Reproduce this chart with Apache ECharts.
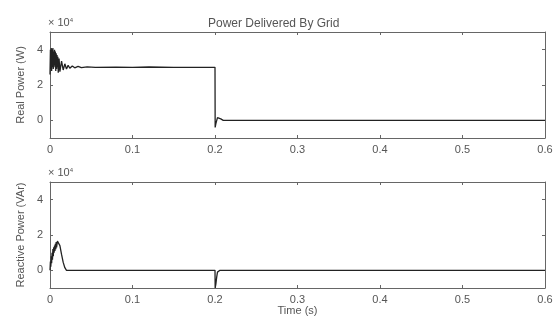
<!DOCTYPE html>
<html>
<head>
<meta charset="utf-8">
<script src="https://cdn.jsdelivr.net/npm/echarts@6/dist/echarts.min.js"></script>
<style>
  html, body { margin: 0; padding: 0; background: #fff; }
  #chart { width: 557px; height: 318px; }
</style>
</head>
<body>
<div id="chart"></div>
<script>
// time axis ticks
const timeTicks = [0, 0.1, 0.2, 0.3, 0.4, 0.5, 0.6]
const powerTicks = [0, 2, 4]

// real power (x 10^4 W)
const realTime = [0, 0.0005, 0.001, 0.0015, 0.002, 0.0025, 0.003, 0.0035, 0.004, 0.0045,
  0.005, 0.0055, 0.006, 0.0065, 0.007, 0.0075, 0.008, 0.0085, 0.009, 0.0095,
  0.010, 0.011, 0.012, 0.014, 0.016, 0.018, 0.020, 0.022, 0.024, 0.027,
  0.030, 0.034, 0.038, 0.045, 0.055, 0.08, 0.1, 0.12, 0.15, 0.18,
  0.2, 0.2002, 0.201, 0.203, 0.205, 0.207, 0.21, 0.3, 0.45, 0.6]
const realPower = [2.6, 4.0, 2.9, 4.1, 2.8, 4.0, 3.0, 4.1, 2.9, 3.9,
  3.1, 4.0, 3.0, 3.9, 2.8, 3.8, 2.9, 3.7, 3.0, 3.6,
  2.7, 3.5, 2.75, 3.35, 2.85, 3.2, 2.9, 3.12, 2.95, 3.08,
  2.97, 3.05, 2.98, 3.03, 3.0, 3.01, 3.0, 3.02, 3.0, 3.0,
  3.0, -0.4, -0.2, 0.15, 0.22, 0.08, 0.0, 0.0, 0.0, 0.0]

// reactive power (x 10^4 VAr)
const reactTime = [0, 0.0005, 0.001, 0.0015, 0.002, 0.0025, 0.003, 0.0035, 0.004, 0.0045,
  0.005, 0.0055, 0.006, 0.0065, 0.007, 0.0075, 0.008, 0.009, 0.010, 0.011,
  0.012, 0.014, 0.016, 0.018, 0.02, 0.022, 0.025, 0.1, 0.2, 0.2002,
  0.201, 0.202, 0.203, 0.204, 0.206, 0.21, 0.3, 0.45, 0.6]
const reactPower = [0, 0.5, 0.2, 0.8, 0.4, 1.0, 0.6, 1.2, 0.8, 1.3,
  1.0, 1.4, 1.1, 1.5, 1.2, 1.6, 1.3, 1.65, 1.55, 1.7,
  1.4, 0.9, 0.45, 0.15, 0.0, -0.05, 0.0, 0.0, 0.0, -1.0,
  -0.8, -0.4, -0.1, 0.0, 0.0, 0.0, 0.0, 0.0, 0.0]

const txt = '#555'
const font = 'Liberation Sans'

function pairs(xs, ys) {
  return xs.map((x, i) => [x, ys[i]])
}

function xAx(gi, pos, labels, name) {
  return {
    type: 'value', gridIndex: gi, position: pos, min: 0, max: 0.6, interval: 0.1,
    name: name || '', nameLocation: 'middle', nameGap: 17,
    nameTextStyle: { color: txt, fontSize: 11, fontFamily: font },
    axisLine: { show: true, onZero: false, lineStyle: { color: '#666', width: 1 } },
    axisTick: { show: true, inside: true, length: 3, customValues: timeTicks, lineStyle: { color: '#666' } },
    axisLabel: {
      show: labels, color: txt, fontSize: 11, fontFamily: font, margin: 6,
      formatter: v => v === 0 ? '0' : v.toFixed(1)
    },
    splitLine: { show: false }
  }
}

function yAx(gi, pos, labels, name) {
  return {
    type: 'value', gridIndex: gi, position: pos, min: -1, max: 5,
    name: name || '', nameLocation: 'middle', nameGap: 22,
    nameTextStyle: { color: txt, fontSize: 11, fontFamily: font },
    axisLine: { show: true, onZero: false, lineStyle: { color: '#666', width: 1 } },
    axisTick: { show: true, inside: true, length: 3, customValues: powerTicks, lineStyle: { color: '#666' } },
    axisLabel: { show: labels, color: txt, fontSize: 11, fontFamily: font, margin: 7, customValues: powerTicks },
    splitLine: { show: false }
  }
}

const mult = { text: '× 10{s|4}', fill: txt, fontSize: 11, fontFamily: font, rich: { s: { fontSize: 6, verticalAlign: 'top', padding: [0, 0, 6, 0] } } }

const chart = echarts.init(document.getElementById('chart'))
chart.setOption({
  animation: false,
  backgroundColor: '#fff',
  title: {
    text: 'Power Delivered By Grid',
    left: 203, top: 13,
    textStyle: { color: txt, fontSize: 12, fontWeight: 'normal', fontFamily: font }
  },
  graphic: [
    { type: 'text', left: 48, top: 17, style: mult },
    { type: 'text', left: 48, top: 167, style: mult }
  ],
  grid: [
    { left: 50, right: 12, top: 32, height: 106 },
    { left: 50, right: 12, top: 182, height: 106 }
  ],
  xAxis: [
    xAx(0, 'bottom', true),
    xAx(0, 'top', false),
    xAx(1, 'bottom', true, 'Time (s)'),
    xAx(1, 'top', false)
  ],
  yAxis: [
    yAx(0, 'left', true, 'Real Power (W)'),
    yAx(0, 'right', false),
    yAx(1, 'left', true, 'Reactive Power (VAr)'),
    yAx(1, 'right', false)
  ],
  series: [
    {
      type: 'line', xAxisIndex: 0, yAxisIndex: 0, showSymbol: false,
      lineStyle: { color: '#222', width: 1.3 },
      data: pairs(realTime, realPower)
    },
    {
      type: 'line', xAxisIndex: 2, yAxisIndex: 2, showSymbol: false,
      lineStyle: { color: '#222', width: 1.3 },
      data: pairs(reactTime, reactPower)
    }
  ]
})
</script>
</body>
</html>
